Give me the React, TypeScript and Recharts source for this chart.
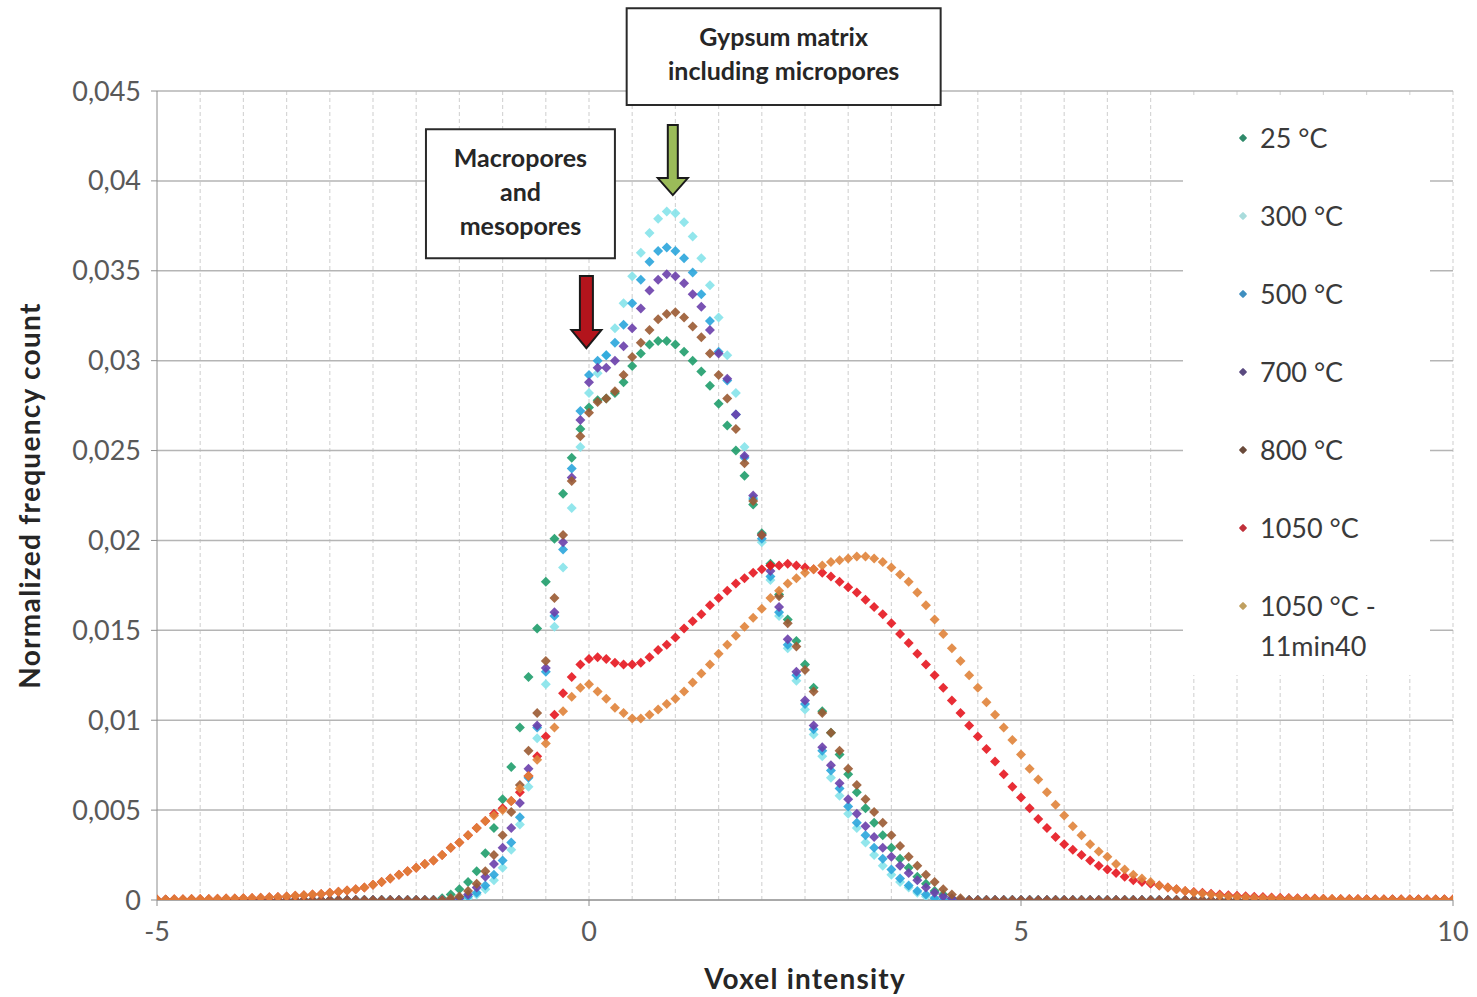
import React from 'react';
import {
  ScatterChart, Scatter, XAxis, YAxis, CartesianGrid,
  ReferenceArea, ReferenceDot, Legend,
} from 'recharts';

// x grid: voxel intensity from -5 to 10 in steps of 0.1 (151 bins)
const X_START = -5;
const X_STEP = 0.1;
const xAt = (i: number) => Math.round((X_START + i * X_STEP) * 10) / 10;

const xTicks = [-5, 0, 5, 10];
const yTicks = [0, 0.005, 0.01, 0.015, 0.02, 0.025, 0.03, 0.035, 0.04, 0.045];
const gridX = [-4.5, -4, -3.5, -3, -2.5, -2, -1.5, -1, -0.5, 0, 0.5, 1, 1.5, 2, 2.5, 3, 3.5, 4, 4.5, 5, 5.5, 6, 6.5, 7, 7.5, 8, 8.5, 9, 9.5, 10];

const s25 = [
  0, 0, 0, 0, 0, 0, 0, 0, 0, 0,
  0, 0, 0, 0, 0, 0, 0, 0, 0, 0,
  0, 0, 0, 0, 0, 0, 0, 0, 0, 0,
  0, 0, 0, 0.0001, 0.0003, 0.0006, 0.0010, 0.0016, 0.0026, 0.0040,
  0.0056, 0.0074, 0.0096, 0.0124, 0.0151, 0.0177, 0.0201, 0.0226, 0.0246, 0.0262,
  0.0274, 0.0278, 0.0279, 0.0282, 0.0288, 0.0297, 0.0304, 0.0309, 0.0311, 0.0311,
  0.0309, 0.0305, 0.0300, 0.0294, 0.0286, 0.0276, 0.0264, 0.0250, 0.0236, 0.0220,
  0.0204, 0.0187, 0.0170, 0.0156, 0.0144, 0.0131, 0.0118, 0.0105, 0.0093, 0.0081,
  0.0070, 0.0060, 0.0051, 0.0043, 0.0036, 0.0029, 0.0023, 0.0018, 0.0013, 0.0009,
  0.0005, 0.0003, 0.0001, 0, 0, 0, 0, 0, 0, 0,
  0, 0, 0, 0, 0, 0, 0, 0, 0, 0,
  0, 0, 0, 0, 0, 0, 0, 0, 0, 0,
  0, 0, 0, 0, 0, 0, 0, 0, 0, 0,
  0, 0, 0, 0, 0, 0, 0, 0, 0, 0,
  0, 0, 0, 0, 0, 0, 0, 0, 0, 0,
  0,
];

const s300 = [
  0, 0, 0, 0, 0, 0, 0, 0, 0, 0,
  0, 0, 0, 0, 0, 0, 0, 0, 0, 0,
  0, 0, 0, 0, 0, 0, 0, 0, 0, 0,
  0, 0, 0, 0, 0, 0, 0.0001, 0.0003, 0.0006, 0.0011,
  0.0018, 0.0028, 0.0042, 0.0063, 0.0090, 0.0120, 0.0152, 0.0185, 0.0218, 0.0252,
  0.0282, 0.0293, 0.0303, 0.0318, 0.0332, 0.0347, 0.0360, 0.0371, 0.0379, 0.0383,
  0.0382, 0.0377, 0.0369, 0.0357, 0.0342, 0.0324, 0.0303, 0.0282, 0.0252, 0.0224,
  0.0199, 0.0178, 0.0158, 0.0140, 0.0122, 0.0106, 0.0092, 0.0080, 0.0068, 0.0058,
  0.0048, 0.0040, 0.0032, 0.0025, 0.0019, 0.0014, 0.0010, 0.0007, 0.0004, 0.0002,
  0.0001, 0, 0, 0, 0, 0, 0, 0, 0, 0,
  0, 0, 0, 0, 0, 0, 0, 0, 0, 0,
  0, 0, 0, 0, 0, 0, 0, 0, 0, 0,
  0, 0, 0, 0, 0, 0, 0, 0, 0, 0,
  0, 0, 0, 0, 0, 0, 0, 0, 0, 0,
  0, 0, 0, 0, 0, 0, 0, 0, 0, 0,
  0,
];

const s500 = [
  0, 0, 0, 0, 0, 0, 0, 0, 0, 0,
  0, 0, 0, 0, 0, 0, 0, 0, 0, 0,
  0, 0, 0, 0, 0, 0, 0, 0, 0, 0,
  0, 0, 0, 0, 0, 0.0001, 0.0002, 0.0004, 0.0008, 0.0014,
  0.0022, 0.0032, 0.0046, 0.0068, 0.0096, 0.0127, 0.0158, 0.0195, 0.0240, 0.0272,
  0.0292, 0.0300, 0.0303, 0.0310, 0.0320, 0.0332, 0.0345, 0.0355, 0.0361, 0.0363,
  0.0361, 0.0357, 0.0349, 0.0337, 0.0322, 0.0305, 0.0289, 0.0270, 0.0246, 0.0223,
  0.0201, 0.0180, 0.0160, 0.0142, 0.0125, 0.0109, 0.0095, 0.0083, 0.0072, 0.0062,
  0.0052, 0.0043, 0.0036, 0.0029, 0.0023, 0.0017, 0.0012, 0.0008, 0.0005, 0.0003,
  0.0001, 0, 0, 0, 0, 0, 0, 0, 0, 0,
  0, 0, 0, 0, 0, 0, 0, 0, 0, 0,
  0, 0, 0, 0, 0, 0, 0, 0, 0, 0,
  0, 0, 0, 0, 0, 0, 0, 0, 0, 0,
  0, 0, 0, 0, 0, 0, 0, 0, 0, 0,
  0, 0, 0, 0, 0, 0, 0, 0, 0, 0,
  0,
];

const s700 = [
  0, 0, 0, 0, 0, 0, 0, 0, 0, 0,
  0, 0, 0, 0, 0, 0, 0, 0, 0, 0,
  0, 0, 0, 0, 0, 0, 0, 0, 0, 0,
  0, 0, 0, 0, 0, 0.0001, 0.0003, 0.0007, 0.0013, 0.0020,
  0.0029, 0.0040, 0.0054, 0.0073, 0.0097, 0.0129, 0.0160, 0.0199, 0.0235, 0.0267,
  0.0288, 0.0296, 0.0296, 0.0300, 0.0308, 0.0318, 0.0329, 0.0339, 0.0345, 0.0348,
  0.0347, 0.0343, 0.0337, 0.0330, 0.0317, 0.0304, 0.0290, 0.0270, 0.0247, 0.0225,
  0.0203, 0.0183, 0.0163, 0.0145, 0.0127, 0.0111, 0.0097, 0.0085, 0.0075, 0.0065,
  0.0056, 0.0048, 0.0041, 0.0035, 0.0029, 0.0024, 0.0019, 0.0015, 0.0011, 0.0007,
  0.0004, 0.0002, 0.0001, 0, 0, 0, 0, 0, 0, 0,
  0, 0, 0, 0, 0, 0, 0, 0, 0, 0,
  0, 0, 0, 0, 0, 0, 0, 0, 0, 0,
  0, 0, 0, 0, 0, 0, 0, 0, 0, 0,
  0, 0, 0, 0, 0, 0, 0, 0, 0, 0,
  0, 0, 0, 0, 0, 0, 0, 0, 0, 0,
  0,
];

const s800 = [
  0, 0, 0, 0, 0, 0, 0, 0, 0, 0,
  0, 0, 0, 0, 0, 0, 0, 0, 0, 0,
  0, 0, 0, 0, 0, 0, 0, 0, 0, 0,
  0, 0, 0, 0, 0.0001, 0.0002, 0.0005, 0.0009, 0.0016, 0.0025,
  0.0036, 0.0049, 0.0064, 0.0083, 0.0104, 0.0133, 0.0168, 0.0203, 0.0233, 0.0258,
  0.0271, 0.0277, 0.0279, 0.0283, 0.0292, 0.0302, 0.0310, 0.0317, 0.0323, 0.0326,
  0.0327, 0.0324, 0.0319, 0.0313, 0.0304, 0.0292, 0.0279, 0.0262, 0.0243, 0.0222,
  0.0203, 0.0186, 0.0169, 0.0154, 0.0141, 0.0128, 0.0116, 0.0104, 0.0093, 0.0083,
  0.0073, 0.0064, 0.0056, 0.0049, 0.0043, 0.0036, 0.0030, 0.0024, 0.0019, 0.0014,
  0.0010, 0.0006, 0.0003, 0.0001, 0, 0, 0, 0, 0, 0,
  0, 0, 0, 0, 0, 0, 0, 0, 0, 0,
  0, 0, 0, 0, 0, 0, 0, 0, 0, 0,
  0, 0, 0, 0, 0, 0, 0, 0, 0, 0,
  0, 0, 0, 0, 0, 0, 0, 0, 0, 0,
  0, 0, 0, 0, 0, 0, 0, 0, 0, 0,
  0,
];

const s1050 = [
  0.00003, 0.00003, 0.00004, 0.00004, 0.00005, 0.00005, 0.00006, 0.00007, 0.00008, 0.00009,
  0.0001, 0.00011, 0.00013, 0.00015, 0.00017, 0.0002, 0.00023, 0.00026, 0.0003, 0.00034,
  0.0004, 0.00046, 0.00053, 0.0006, 0.0007, 0.00085, 0.001, 0.0012, 0.0014, 0.0016,
  0.0018, 0.0020, 0.0022, 0.0025, 0.0029, 0.0032, 0.0036, 0.0040, 0.0044, 0.0048,
  0.0051, 0.0055, 0.0060, 0.0069, 0.0080, 0.0091, 0.0103, 0.0115, 0.0124, 0.0131,
  0.0134, 0.0135, 0.0134, 0.0132, 0.0131, 0.0131, 0.0132, 0.0135, 0.0139, 0.0142,
  0.0146, 0.0151, 0.0155, 0.0159, 0.0164, 0.0168, 0.0172, 0.0176, 0.0179, 0.0182,
  0.0184, 0.0186, 0.0186, 0.0187, 0.0186, 0.0185, 0.0184, 0.0182, 0.0180, 0.0177,
  0.0174, 0.0171, 0.0167, 0.0163, 0.0159, 0.0154, 0.0148, 0.0143, 0.0137, 0.0131,
  0.0125, 0.0118, 0.0111, 0.0104, 0.0097, 0.0091, 0.0084, 0.0077, 0.0070, 0.0063,
  0.0057, 0.0051, 0.0045, 0.0040, 0.0035, 0.0031, 0.0028, 0.0025, 0.0022, 0.0019,
  0.0017, 0.0015, 0.0013, 0.0011, 0.0010, 0.0009, 0.0008, 0.0007, 0.0006, 0.0005,
  0.00045, 0.0004, 0.00035, 0.0003, 0.00027, 0.00024, 0.00021, 0.00018, 0.00016, 0.00014,
  0.00012, 0.00011, 0.0001, 0.00009, 0.00008, 0.00007, 0.00006, 0.00006, 0.00005, 0.00005,
  0.00004, 0.00004, 0.00004, 0.00004, 0.00004, 0.00004, 0.00004, 0.00004, 0.00004, 0.00004,
  0.00004,
];

const s1050b = [
  0.00003, 0.00003, 0.00004, 0.00004, 0.00005, 0.00005, 0.00006, 0.00007, 0.00008, 0.00009,
  0.0001, 0.00011, 0.00013, 0.00015, 0.00017, 0.0002, 0.00023, 0.00026, 0.0003, 0.00034,
  0.0004, 0.00046, 0.00053, 0.0006, 0.0007, 0.00085, 0.001, 0.0012, 0.0014, 0.0016,
  0.0018, 0.0020, 0.0022, 0.0025, 0.0029, 0.0032, 0.0036, 0.0040, 0.0044, 0.0047,
  0.0050, 0.0055, 0.0062, 0.0069, 0.0078, 0.0087, 0.0096, 0.0105, 0.0113, 0.0118,
  0.0120, 0.0116, 0.0112, 0.0107, 0.0104, 0.0101, 0.0101, 0.0103, 0.0106, 0.0109,
  0.0112, 0.0116, 0.0121, 0.0126, 0.0131, 0.0137, 0.0142, 0.0147, 0.0152, 0.0157,
  0.0162, 0.0168, 0.0172, 0.0176, 0.0179, 0.0182, 0.0184, 0.0186, 0.0188, 0.0189,
  0.0190, 0.0191, 0.0191, 0.0190, 0.0188, 0.0185, 0.0181, 0.0177, 0.0171, 0.0164,
  0.0156, 0.0148, 0.0140, 0.0133, 0.0125, 0.0118, 0.0110, 0.0103, 0.0096, 0.0089,
  0.0081, 0.0073, 0.0067, 0.0060, 0.0053, 0.0047, 0.0041, 0.0036, 0.0031, 0.0027,
  0.0024, 0.0020, 0.0017, 0.0014, 0.0012, 0.0010, 0.0008, 0.0007, 0.0006, 0.0005,
  0.00042, 0.00036, 0.0003, 0.00025, 0.00021, 0.00018, 0.00015, 0.00013, 0.00011, 0.0001,
  0.00009, 0.00008, 0.00007, 0.00006, 0.00006, 0.00005, 0.00005, 0.00004, 0.00004, 0.00004,
  0.00003, 0.00003, 0.00003, 0.00003, 0.00003, 0.00003, 0.00003, 0.00003, 0.00003, 0.00003,
  0.00003,
];

const seriesNames = ['25 °C', '300 °C', '500 °C', '700 °C', '800 °C', '1050 °C', '1050 °C - 11min40'];
const seriesColors = ['#1f9d6c', '#86e3ea', '#2aa5dc', '#6a3fab', '#9a5a32', '#e5161f', '#e0833a'];
const legendColors = ['#2f8a6a', '#a9dcdc', '#3f8fc0', '#5a4a80', '#6a4a3a', '#c0303a', '#c0a060'];
const seriesValues = [s25, s300, s500, s700, s800, s1050, s1050b];

const FONT = 'Lato, "Open Sans", "DejaVu Sans", sans-serif';

const toPoints = (vals: number[]) => vals.map((v, i) => ({ x: xAt(i), y: v }));

const makeDiamond = (color: string) => (props: any) => {
  const { cx, cy } = props;
  if (cx == null || cy == null) return <g />;
  const r = 5;
  return (
    <polygon
      points={`${cx},${cy - r} ${cx + r},${cy} ${cx},${cy + r} ${cx - r},${cy}`}
      fill={color}
      fillOpacity={0.9}
    />
  );
};

const BoxLabel = (props: any) => {
  const { viewBox, lines } = props;
  if (!viewBox) return null;
  const { x, y, width, height } = viewBox;
  const lh = 34;
  const cy = y + height / 2 - 2;
  const start = cy - ((lines.length - 1) * lh) / 2;
  return (
    <text
      textAnchor="middle"
      fontFamily={FONT}
      fontWeight={700}
      fontSize={25}
      fill="#262626"
    >
      {lines.map((l: string, i: number) => (
        <tspan key={i} x={x + width / 2} y={start + i * lh} dy="0.35em">
          {l}
        </tspan>
      ))}
    </text>
  );
};

const makeArrow = (fill: string, shaftHalf: number, headHalf: number, headLen: number, len: number) =>
  (props: any) => {
    const { cx, cy } = props;
    if (cx == null || cy == null) return <g />;
    const pts = [
      [cx - shaftHalf, cy - len],
      [cx + shaftHalf, cy - len],
      [cx + shaftHalf, cy - headLen],
      [cx + headHalf, cy - headLen],
      [cx, cy],
      [cx - headHalf, cy - headLen],
      [cx - shaftHalf, cy - headLen],
    ].map((p) => p.join(',')).join(' ');
    return <polygon points={pts} fill={fill} stroke="#1a1a1a" strokeWidth={2} strokeLinejoin="miter" />;
  };

const renderLegend = () => (
  <div style={{ width: '100%', height: '100%', background: '#fff', paddingTop: 4, boxSizing: 'border-box' }}>
    {seriesNames.map((name, i) => (
      <div key={name} style={{ height: 78, position: 'relative', boxSizing: 'border-box', paddingTop: 19 }}>
        <div
          style={{
            position: 'absolute', left: 57, top: 19 + 17, width: 6, height: 6,
            background: legendColors[i], transform: 'rotate(45deg)', borderRadius: 1,
          }}
        />
        <div
          style={{
            marginLeft: 77, width: 150, fontFamily: FONT, fontSize: 27, lineHeight: '40px',
            color: '#3a3a3a',
          }}
        >
          {name}
        </div>
      </div>
    ))}
  </div>
);

const fmtY = (v: number) => String(v).replace('.', ',');

export default function App() {
  return (
    <div style={{ position: 'absolute', left: 0, top: 0, width: 1477, height: 997, background: '#fff', fontFamily: FONT }}>
      <ScatterChart width={1477} height={997} margin={{ top: 91, right: 24, bottom: 0, left: 0 }}>
        <CartesianGrid
          horizontal={false}
          vertical
          verticalValues={gridX}
          stroke="#d6d6d6"
          strokeWidth={1.2}
          strokeDasharray="4 3"
        />
        <CartesianGrid horizontal vertical={false} stroke="#b5b5b5" strokeWidth={1.5} />
        <XAxis
          type="number"
          dataKey="x"
          domain={[-5, 10]}
          ticks={xTicks}
          allowDataOverflow
          height={97}
          stroke="#8c8c8c"
          tickSize={6}
          tickMargin={16}
          tick={{ fill: '#595959', fontSize: 27, fontFamily: FONT }}
          label={{
            value: 'Voxel intensity', position: 'insideBottom', offset: 8,
            style: { fontFamily: FONT, fontWeight: 700, fontSize: 28, letterSpacing: 1.2, fill: '#262626' },
          }}
        />
        <YAxis
          type="number"
          dataKey="y"
          domain={[0, 0.045]}
          ticks={yTicks}
          allowDataOverflow
          width={157}
          stroke="#8c8c8c"
          tickSize={6}
          tickMargin={10}
          tickFormatter={fmtY}
          tick={{ fill: '#595959', fontSize: 27, fontFamily: FONT }}
          label={{
            value: 'Normalized frequency count', angle: -90, position: 'insideLeft', offset: 30,
            style: { textAnchor: 'middle', fontFamily: FONT, fontWeight: 700, fontSize: 28, letterSpacing: 1.3, fill: '#262626' },
          }}
        />
        {seriesValues.map((vals, i) => (
          <Scatter
            key={seriesNames[i]}
            name={seriesNames[i]}
            data={toPoints(vals)}
            fill={seriesColors[i]}
            shape={makeDiamond(seriesColors[i])}
            isAnimationActive={false}
          />
        ))}
        <ReferenceArea
          x1={0.436} x2={4.07} y1={0.04422} y2={0.0496}
          ifOverflow="visible"
          fill="#fff" fillOpacity={1} stroke="#2a2a2a" strokeWidth={2}
          label={<BoxLabel lines={['Gypsum matrix', 'including micropores']} />}
        />
        <ReferenceArea
          x1={-1.887} x2={0.3} y1={0.03569} y2={0.04287}
          ifOverflow="visible"
          fill="#fff" fillOpacity={1} stroke="#2a2a2a" strokeWidth={2}
          label={<BoxLabel lines={['Macropores', 'and', 'mesopores']} />}
        />
        <ReferenceDot
          x={0.97} y={0.03921} ifOverflow="visible"
          shape={makeArrow('#9bbb59', 5, 15, 17, 70)}
        />
        <ReferenceDot
          x={-0.03} y={0.0307} ifOverflow="visible"
          shape={makeArrow('#b3141c', 6.5, 15, 18, 72)}
        />
        <Legend
          layout="horizontal"
          verticalAlign="middle"
          align="center"
          content={renderLegend}
          wrapperStyle={{ position: 'absolute', left: 1183, top: 95, width: 247, height: 580 }}
        />
      </ScatterChart>
    </div>
  );
}
